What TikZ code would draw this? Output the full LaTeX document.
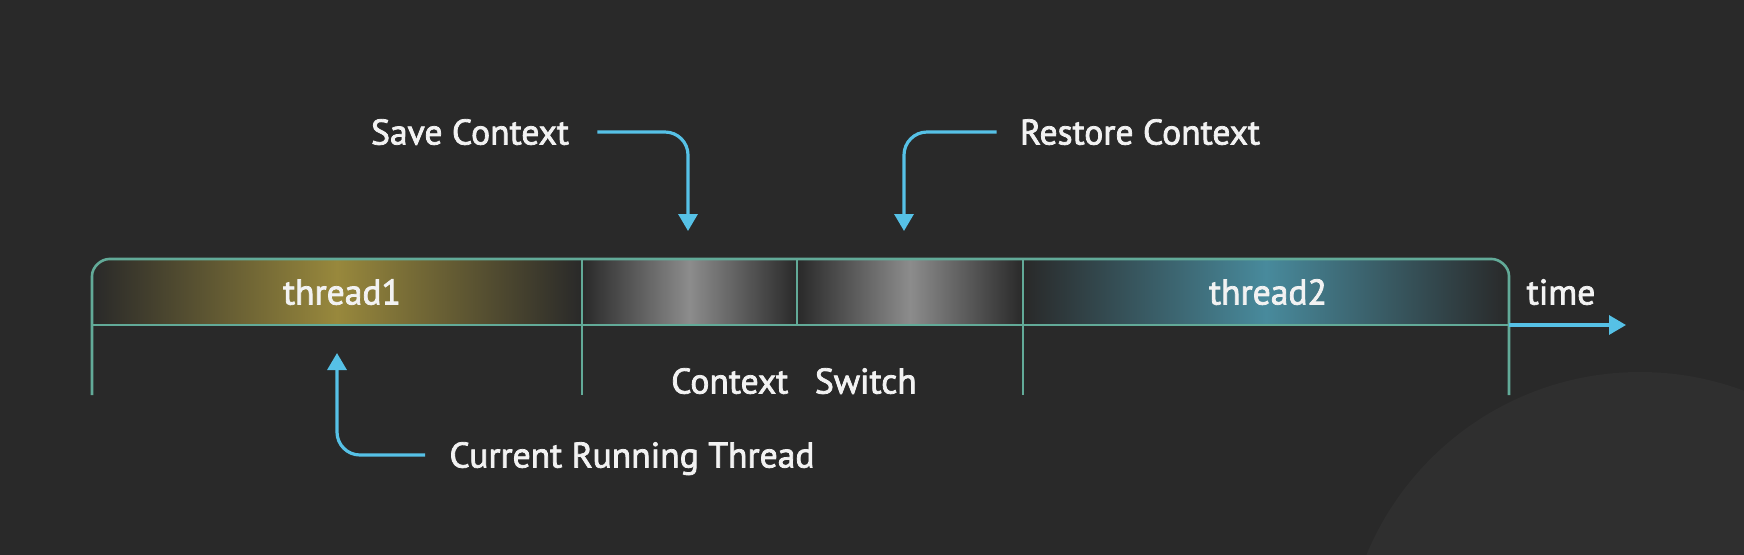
\documentclass[tikz,border=0pt]{standalone}
\usepackage{fontspec}
\setmainfont{PT Sans}
\newfontfamily\lblfont[FakeBold=2.2]{PT Sans}
\usetikzlibrary{arrows.meta}
\definecolor{bgc}{RGB}{41,41,41}
\definecolor{blobc}{RGB}{47,47,47}
\definecolor{linec}{RGB}{98,170,152}
\definecolor{arrc}{RGB}{86,193,230}
\definecolor{txtc}{RGB}{242,242,242}
\definecolor{olivec}{RGB}{152,136,60}
\definecolor{grayc}{RGB}{140,140,140}
\definecolor{tealc}{RGB}{72,138,156}
\begin{document}
\begin{tikzpicture}[x=0.5pt,y=-0.5pt,
  lbl/.style={text=txtc, font=\lblfont\fontsize{17.8}{20}\selectfont, inner sep=0pt, text height=12.5pt, text depth=0pt, anchor=center},
  frame/.style={draw=linec, line width=1.3pt},
  pointer/.style={draw=arrc, line width=1.6pt, -{Triangle[width=9.5pt,length=8.5pt]}, rounded corners=11.5pt},
  band/.style={left color=bgc, right color=bgc}
]
\useasboundingbox (0,0) rectangle (1744,554);
\fill[bgc] (-20,-20) rectangle (1764,574);
\begin{scope}
  \clip (-20,-20) rectangle (1764,574);
  \fill[blobc] (1640,668) circle[radius=148pt];
\end{scope}
% shaded bands
\shade[band, middle color=olivec] (92,325) -- (92,276) .. controls (92,266.5) and (101.5,259) .. (109,259) -- (582,259) -- (582,325) -- cycle;
\shade[band, middle color=grayc] (582,259) rectangle (797,325);
\shade[band, middle color=grayc] (797,259) rectangle (1023,325);
\shade[band, middle color=tealc] (1023,325) -- (1023,259) -- (1492,259) .. controls (1499.5,259) and (1509,266.5) .. (1509,276) -- (1509,325) -- cycle;
% frame
\coordinate (lb) at (92,395);
\coordinate (rb) at (1509,395);
\coordinate (tstart) at (1509,325);
\coordinate (timetip) at (1626,325);
\draw[frame] (lb) -- (92,276) .. controls (92,266.5) and (101.5,259) .. (109,259) -- (1492,259) .. controls (1499.5,259) and (1509,266.5) .. (1509,276) -- (rb);
\draw[frame] (92,325) -- (tstart);
\draw[frame] (582,259) -- (582,395);
\draw[frame] (797,259) -- (797,325);
\draw[frame] (1023,259) -- (1023,395);
\draw[pointer, rounded corners=0pt] (tstart) -- (timetip);
% labels
\node[lbl] (save) at (470,132) {Save Context};
\node[lbl] (restore) at (1140,132) {Restore Context};
\node[lbl] (current) at (632,455) {Current Running Thread};
\node[lbl] (t1) at (342,292) {thread1};
\node[lbl] (t2) at (1268,292) {thread2};
\node[lbl] (time) at (1561,292) {time};
\node[lbl] (cs) at (794,381) {Context\hspace{0.75em}Switch};
% pointers
\coordinate (savetip) at (688,231);
\coordinate (restoretip) at (904,231);
\coordinate (curtip) at (337,353);
\draw[pointer, shorten <=14pt] (save.east) -| (savetip);
\draw[pointer, shorten <=11.5pt] (restore.west) -| (restoretip);
\draw[pointer, shorten <=12pt] (current.west) -| (curtip);
\end{tikzpicture}
\end{document}
